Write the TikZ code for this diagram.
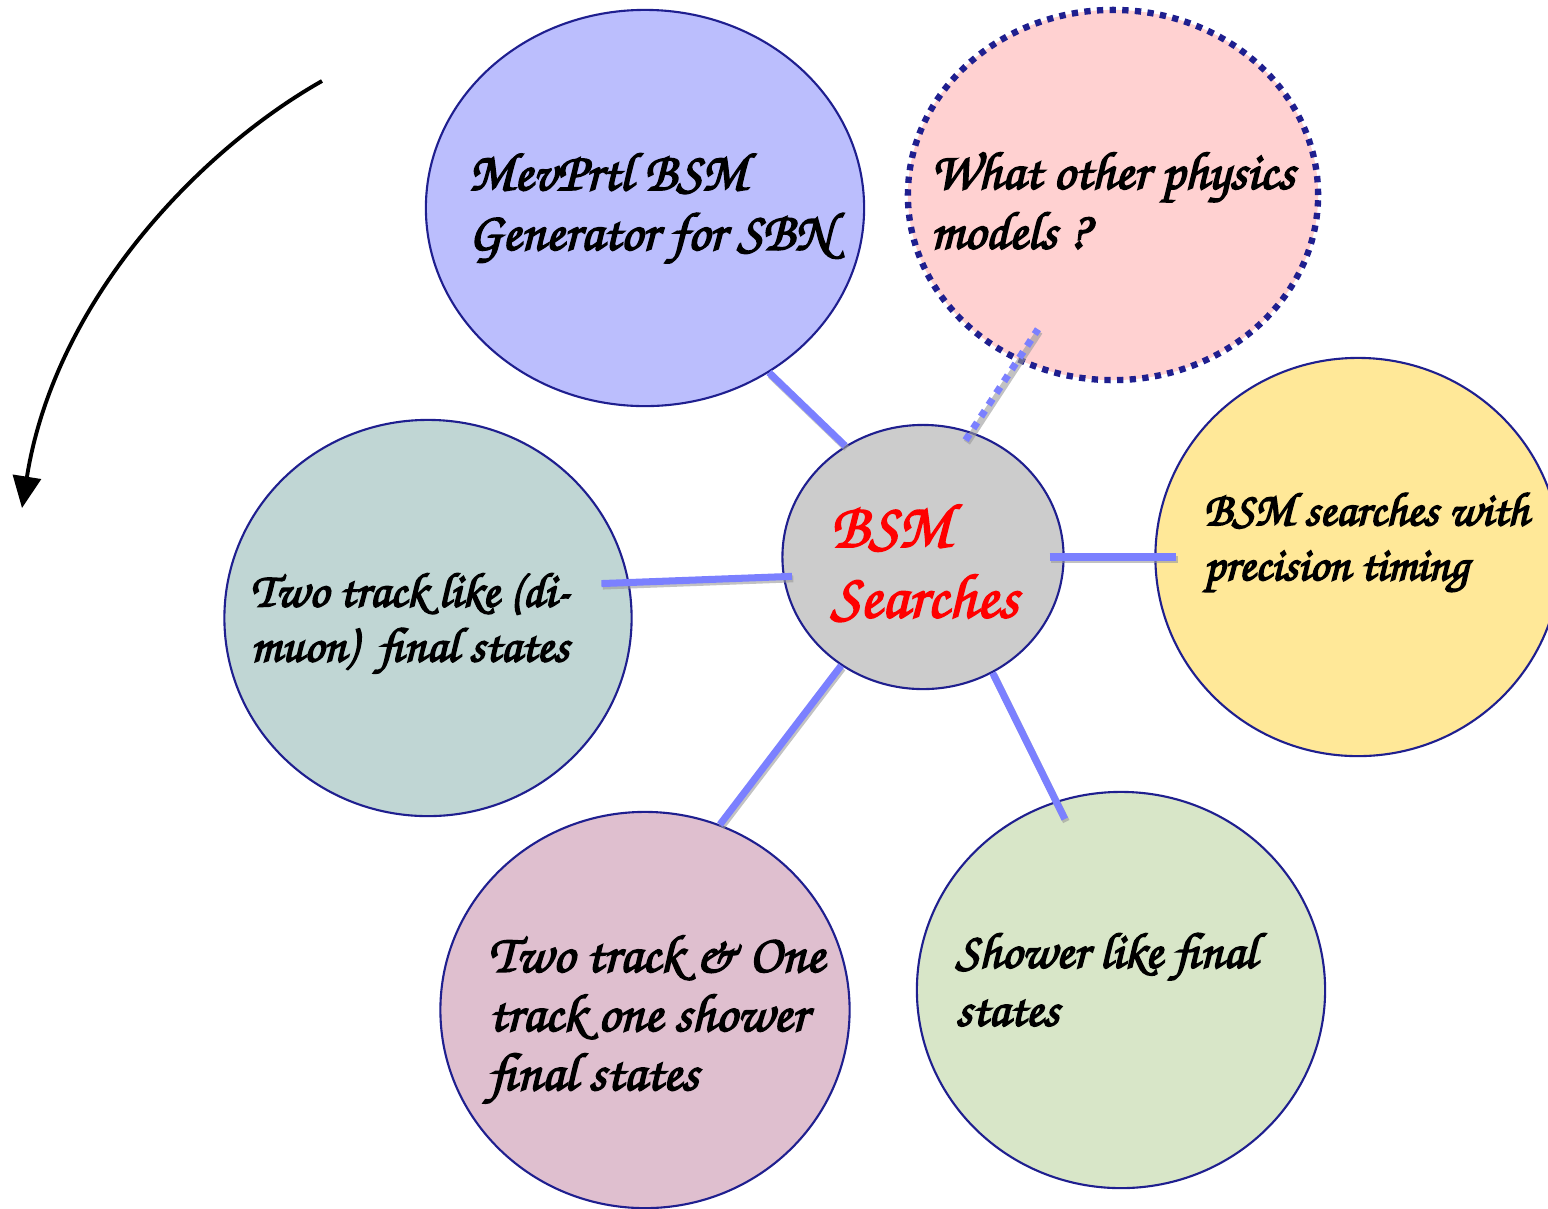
\documentclass[tikz,border=0pt]{standalone}
\usepackage[T1]{fontenc}
\usepackage{tikz}
\usetikzlibrary{arrows.meta,positioning,shapes.geometric,calc}

\definecolor{rim}{HTML}{1F1F8F}
\definecolor{spokeblue}{HTML}{7B80FF}
\definecolor{mevfill}{HTML}{BBBEFD}
\definecolor{wotfill}{HTML}{FFD1D1}
\definecolor{bsmfill}{HTML}{CCCCCC}
\definecolor{twofill}{HTML}{C0D6D4}
\definecolor{yelfill}{HTML}{FFE898}
\definecolor{ttsfill}{HTML}{DFBFCF}
\definecolor{shwfill}{HTML}{D8E6C8}

\newcommand{\chancery}{\fontfamily{pzc}\fontseries{mb}\fontshape{it}\selectfont}

\begin{document}
\begin{tikzpicture}[x=0.01cm, y=-0.01cm,
  bubble/.style={ellipse, draw=rim, line width=0.6pt, inner sep=0pt},
  txt/.style={align=left, anchor=west, inner sep=0pt,
    font=\chancery\fontsize{15}{17}\selectfont,
    execute at begin node={\special{pdf:literal q 2 Tr 0.45 w}},
    execute at end node={\special{pdf:literal Q}}},
  spoke/.style={draw=spokeblue, line width=2pt,
    preaction={draw=black!40, line width=2pt, opacity=0.6,
      transform canvas={shift={(0.4pt,-0.7pt)}}}}
]
\useasboundingbox (0,0) rectangle (1548,1208);

% bubbles
\node[bubble, fill=mevfill, minimum width=4.38cm, minimum height=3.96cm] (mev) at (645,208) {};
\node[bubble, fill=wotfill, line width=1.8pt, dash pattern=on 1.8pt off 1.8pt,
      minimum width=4.10cm, minimum height=3.70cm] (wot) at (1113,195) {};
\node[bubble, fill=twofill, minimum width=4.07cm, minimum height=3.96cm] (two) at (428,618) {};
\node[bubble, fill=yelfill, minimum width=4.05cm, minimum height=3.98cm] (yel) at (1358,557) {};
\node[bubble, fill=ttsfill, minimum width=4.09cm, minimum height=3.96cm] (tts) at (645,1010) {};
\node[bubble, fill=shwfill, minimum width=4.08cm, minimum height=3.96cm] (shw) at (1121,990) {};
\node[bubble, fill=bsmfill, minimum width=2.81cm, minimum height=2.64cm] (bsm) at (923,557) {};

% spokes
\draw[spoke] (bsm.125) -- (mev.-53);
\draw[spoke, dash pattern=on 2pt off 2pt, shorten <=-0.1cm, shorten >=-0.39cm] (bsm.69) -- (wot.-120);
\draw[spoke, shorten <=-0.15cm, shorten >=-0.22cm] (bsm.0) -- (yel.180);
\draw[spoke, shorten <=-0.09cm, shorten >=-0.28cm] (bsm.188) -- (two.10);
\draw[spoke] (bsm.233) -- (tts.68);
\draw[spoke, shorten >=-0.2cm] (bsm.-59) -- (shw.109);

% labels
\node[txt, font=\chancery\fontsize{15.4}{17}\selectfont] (mev-txt) at (468,209) {MevPrtl BSM\\Generator for SBN};
\node[txt, font=\chancery\fontsize{15.2}{17}\selectfont] (wot-txt) at (930,200) {What other physics\\models ?};
\node[txt, font=\chancery\fontsize{13.9}{15.6}\selectfont] (two-txt) at (250,624) {Two track like (di-\\muon)~ final states};
\node[txt, font=\chancery\fontsize{13.5}{15.6}\selectfont] (yel-txt) at (1203,543) {BSM searches with\\precision timing};
\node[txt, font=\chancery\fontsize{15.3}{16.8}\selectfont] (tts-txt) at (488,1020) {Two track \& One\\track one shower\\final states};
\node[txt, font=\chancery\fontsize{14.4}{16.5}\selectfont] (shw-txt) at (955,979) {Shower like final\\states};
\node[txt, text=red, font=\chancery\fontsize{18}{20}\selectfont] (bsm-txt) at (830,562) {BSM\\Searches};

% direction arrow
\coordinate (arrow-start) at (322,81);
\coordinate (arrow-end) at (22,508);
\draw[line width=1.1pt, -{Triangle[length=9pt,width=8pt]}]
  (arrow-start) .. controls (200,150) and (55,300) .. (arrow-end);

\end{tikzpicture}
\end{document}
